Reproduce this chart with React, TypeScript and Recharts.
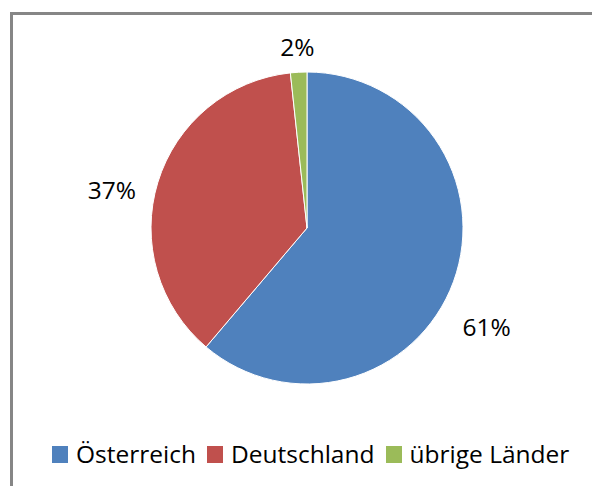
import React from "react";
import { PieChart, Pie, Cell, Legend } from "recharts";

const countries = ["Österreich", "Deutschland", "übrige Länder"];
const shares = [61.2, 37.1, 1.7];
const colors = ["#4F81BD", "#C0504D", "#9BBB59"];

// label placement tweaks (degrees added to mid angle, distance from centre)
const labelAngleShift = [-8.7, 5.9, 0];
const labelDistance = [205, 199, 182];

const data = countries.map((name, i) => ({ name, value: shares[i] }));

const FONT = "'Open Sans', sans-serif";
const RAD = Math.PI / 180;

function renderLabel(props: any) {
  const { cx, cy, midAngle, index, percent } = props;
  const a = (midAngle + labelAngleShift[index]) * RAD;
  const d = labelDistance[index];
  const x = cx + d * Math.cos(a);
  const y = cy - d * Math.sin(a);
  return (
    <text
      x={x}
      y={y}
      textAnchor="middle"
      dominantBaseline="central"
      fill="#000"
      fontSize={24.5}
      fontFamily={FONT}
    >
      {`${Math.round(percent * 100)}%`}
    </text>
  );
}

function LegendContent() {
  return (
    <div style={{ display: "flex", alignItems: "center", fontFamily: FONT, fontSize: 24.5, lineHeight: "24px", color: "#000" }}>
      {countries.map((c, i) => (
        <div key={c} style={{ display: "flex", alignItems: "center", marginRight: 11 }}>
          <span style={{ width: 16, height: 17, background: colors[i], marginRight: 8, display: "inline-block" }} />
          <span>{c}</span>
        </div>
      ))}
    </div>
  );
}

export default function App() {
  return (
    <div style={{ position: "fixed", left: 0, top: 0, width: 592, height: 486, overflow: "hidden", background: "#fff" }}>
      <div
        style={{
          position: "absolute",
          left: 10,
          top: 12,
          width: 582,
          height: 474,
          borderTop: "3px solid #868686",
          borderLeft: "3px solid #868686",
          boxSizing: "border-box",
        }}
      />
      <div style={{ position: "absolute", left: 0, top: 0 }}>
        <PieChart width={592} height={486} margin={{ top: 0, right: 0, bottom: 0, left: 0 }}>
          <Pie
            data={data}
            dataKey="value"
            nameKey="name"
            cx={307}
            cy={228}
            outerRadius={156}
            startAngle={90}
            endAngle={-270}
            stroke="#fff"
            strokeWidth={1}
            label={renderLabel}
            labelLine={false}
            isAnimationActive={false}
          >
            {data.map((entry, i) => (
              <Cell key={entry.name} fill={colors[i]} />
            ))}
          </Pie>
          <Legend
            content={<LegendContent />}
            wrapperStyle={{ position: "absolute", left: 52, top: 442, width: 540, bottom: "auto" }}
          />
        </PieChart>
      </div>
    </div>
  );
}
